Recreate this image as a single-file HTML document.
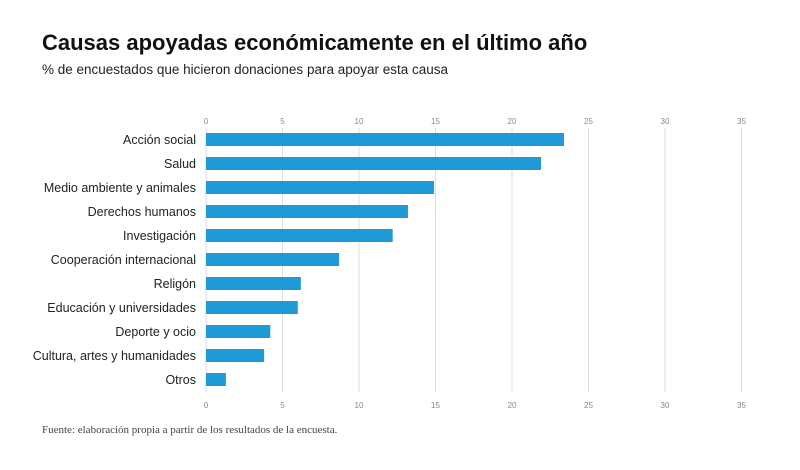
<!DOCTYPE html>
<html><head><meta charset="utf-8"><style>
body{margin:0;background:#fff;width:800px;height:465px;overflow:hidden;font-family:"Liberation Sans",sans-serif}
</style></head><body>
<svg width="800" height="465" xmlns="http://www.w3.org/2000/svg">
<text x="42" y="50" font-size="22" font-weight="bold" fill="#111">Causas apoyadas económicamente en el último año</text>
<text x="42" y="74" font-size="13.5" fill="#222">% de encuestados que hicieron donaciones para apoyar esta causa</text>
<g id="grid"></g><g id="bars"></g>
<text x="42" y="433" font-size="11" fill="#444" font-family="Liberation Serif, serif">Fuente: elaboración propia a partir de los resultados de la encuesta.</text>
</svg>
<script>
const categories=["Acción social","Salud","Medio ambiente y animales","Derechos humanos","Investigación","Cooperación internacional","Religón","Educación y universidades","Deporte y ocio","Cultura, artes y humanidades","Otros"];
const values=[23.4,21.9,14.9,13.2,12.2,8.7,6.2,6.0,4.2,3.8,1.3];
const ticks=[0,5,10,15,20,25,30,35];
const NS="http://www.w3.org/2000/svg";
const x=v=>206+v*15.3;
const y=i=>133+i*24;
const grid=document.getElementById('grid'),bars=document.getElementById('bars');
function mk(tag,attrs,parent){const e=document.createElementNS(NS,tag);for(const k in attrs)e.setAttribute(k,attrs[k]);parent.appendChild(e);return e;}
ticks.forEach(t=>{
  const l=mk('line',{x1:x(t),x2:x(t),y1:128,y2:392,stroke:'#ddd','stroke-width':1},grid);
  
  
  [124,408].forEach(yy=>{
    const tx=mk('text',{x:x(t),y:yy,'font-size':8,fill:'#888','text-anchor':'middle'},grid);
    tx.textContent=t;
    
    
  });
});
categories.forEach((c,i)=>{
  const r=mk('rect',{x:x(0),y:y(i),width:x(values[i])-x(0),height:13,fill:'#1f9ad6'},bars);
  
  
  const t=mk('text',{x:196,y:y(i)+11,'font-size':12.5,fill:'#222','text-anchor':'end'},bars);
  t.textContent=c;
  
  
});
</script>
</body></html>
